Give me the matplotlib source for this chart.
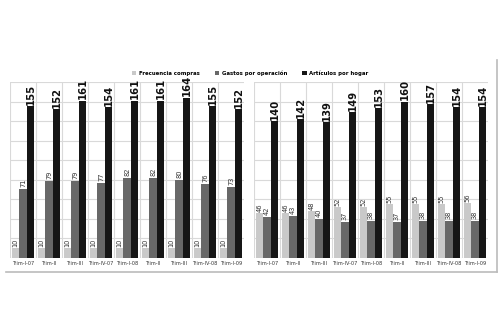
import matplotlib
matplotlib.use("Agg")
import matplotlib.pyplot as plt
from matplotlib.lines import Line2D
from matplotlib.patches import Patch
import numpy as np

categories = ["Trim-I-07", "Trim-II", "Trim-III", "Trim-IV-07", "Trim-I-08",
              "Trim-II", "Trim-III", "Trim-IV-08", "Trim-I-09"]
series_names = ["Frecuencia compras", "Gastos por operación", "Artículos por hogar"]

left_frecuencia = [10, 10, 10, 10, 10, 10, 10, 10, 10]
left_gastos = [71, 79, 79, 77, 82, 82, 80, 76, 73]
left_articulos = [155, 152, 161, 154, 161, 161, 164, 155, 152]

right_frecuencia = [46, 46, 48, 52, 52, 55, 55, 55, 56]
right_gastos = [42, 43, 40, 37, 38, 37, 38, 38, 38]
right_articulos = [140, 142, 139, 149, 153, 160, 157, 154, 154]

colors = ["#c9c9c9", "#686868", "#161616"]

fig = plt.figure(figsize=(5.0, 3.12), dpi=100)
fig.patch.set_facecolor("white")

W, H = 500.0, 312.0
def axrect(x0, x1, ytop, ybot):
    return [x0 / W, (H - ybot) / H, (x1 - x0) / W, (ybot - ytop) / H]

ax1 = fig.add_axes(axrect(10, 244, 82, 258))
ax2 = fig.add_axes(axrect(254, 488, 82, 258))

bw = 0.29
for ax, data in [(ax1, [left_frecuencia, left_gastos, left_articulos]),
                 (ax2, [right_frecuencia, right_gastos, right_articulos])]:
    x = np.arange(len(categories))
    ax.set_xlim(-0.5, len(categories) - 0.5)
    ax.set_ylim(0, 180)
    for s in ax.spines.values():
        s.set_visible(False)
    for yv in range(0, 181, 20):
        ax.axhline(yv, color="#d9d9d9", lw=0.8, zorder=0)
    for xv in np.arange(-0.5, len(categories) - 0.5, 1.0):
        ax.axvline(xv, color="#d9d9d9", lw=0.8, zorder=0)
    for k, vals in enumerate(data):
        off = (k - 1) * bw
        ax.bar(x + off, vals, width=bw, color=colors[k], zorder=2)
        for xi, v in zip(x, vals):
            if k == 2:
                ax.text(xi + off, v + 1.5, str(v), rotation=90, ha="center",
                        va="bottom", fontsize=7.2, fontweight="bold",
                        color="#111111")
            else:
                ax.text(xi + off, v + 1.5, str(v), rotation=90, ha="center",
                        va="bottom", fontsize=4.8, color="#333333")
    ax.set_xticks(x)
    ax.set_xticklabels(categories, fontsize=3.6, color="#333333")
    ax.tick_params(axis="x", length=0, pad=2.5)
    ax.set_yticks([])

handles = [Patch(facecolor=c, edgecolor="none") for c in colors]
fig.legend(handles, series_names, loc="center", bbox_to_anchor=(0.5, (H - 73) / H),
           ncol=3, frameon=False, prop={"size": 3.9, "weight": "bold"},
           handlelength=0.8, handleheight=0.8, handletextpad=0.5,
           columnspacing=2.8)

fig.add_artist(Line2D([6 / W, 497 / W], [(H - 272) / H, (H - 272) / H],
                      color="#bbbbbb", lw=1.2))
fig.add_artist(Line2D([497 / W, 497 / W], [(H - 272) / H, (H - 60) / H],
                      color="#bbbbbb", lw=1.2))

fig.savefig("out.png", dpi=100, facecolor="white")
